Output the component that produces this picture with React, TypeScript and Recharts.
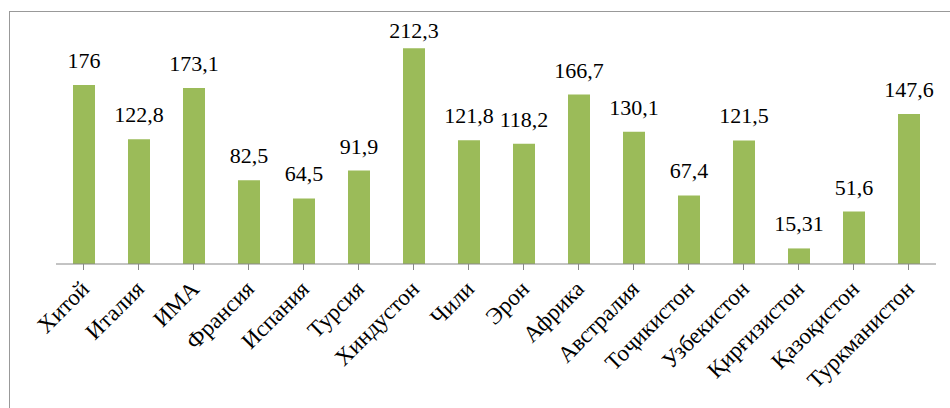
import React from 'react';
import { BarChart, Bar, XAxis, YAxis, LabelList } from 'recharts';

const countries = [
  'Хитой', 'Италия', 'ИМА', 'Франсия', 'Испания', 'Турсия', 'Хиндустон', 'Чили',
  'Эрон', 'Африка', 'Австралия', 'Тоҷикистон', 'Узбекистон', 'Қирғизистон', 'Қазоқистон', 'Туркманистон',
];
const values = [176, 122.8, 173.1, 82.5, 64.5, 91.9, 212.3, 121.8, 118.2, 166.7, 130.1, 67.4, 121.5, 15.31, 51.6, 147.6];

const data = countries.map((name, i) => ({ name, value: values[i] }));

const FONT = '"Liberation Serif", "Times New Roman", Tinos, serif';

const fmt = (v: any) => String(v).replace('.', ',');

const CountryTick = (props: any) => {
  const { x, y, payload } = props;
  return (
    <g transform={`translate(${x},${y})`}>
      <text
        x={0}
        y={0}
        dx={-8}
        dy={18}
        textAnchor="end"
        transform="rotate(-45)"
        fontFamily={FONT}
        fontSize={23}
        fill="#000"
      >
        {payload.value}
      </text>
    </g>
  );
};

// labels sit ~17px above the bar, but are kept inside the top of the plot like Excel does
const ValueLabel = (props: any) => {
  const { x, y, width, value } = props;
  return (
    <text
      x={x + width / 2}
      y={Math.max(y - 17, 38)}
      textAnchor="middle"
      fontFamily={FONT}
      fontSize={22}
      fill="#000"
    >
      {fmt(value)}
    </text>
  );
};

export default function App() {
  return (
    <div style={{ position: 'fixed', left: 0, top: 0, width: 950, height: 408, background: '#fff', overflow: 'hidden' }}>
      <div
        style={{
          position: 'absolute',
          left: 9,
          top: 11,
          width: 960,
          height: 420,
          borderLeft: '1.5px solid #999',
          borderTop: '1.5px solid #999',
        }}
      />
      <div style={{ position: 'absolute', left: 0, top: 0 }}>
        <BarChart
          width={950}
          height={408}
          data={data}
          margin={{ top: 20, right: 14, left: 56, bottom: 0 }}
        >
          <YAxis hide domain={[0, 240]} />
          <XAxis
            dataKey="name"
            height={144}
            interval={0}
            tickSize={6}
            tickMargin={2}
            stroke="#888"
            tick={<CountryTick />}
          />
          <Bar dataKey="value" fill="#9BBB59" barSize={22} isAnimationActive={false}>
            <LabelList dataKey="value" content={<ValueLabel />} />
          </Bar>
        </BarChart>
      </div>
    </div>
  );
}
